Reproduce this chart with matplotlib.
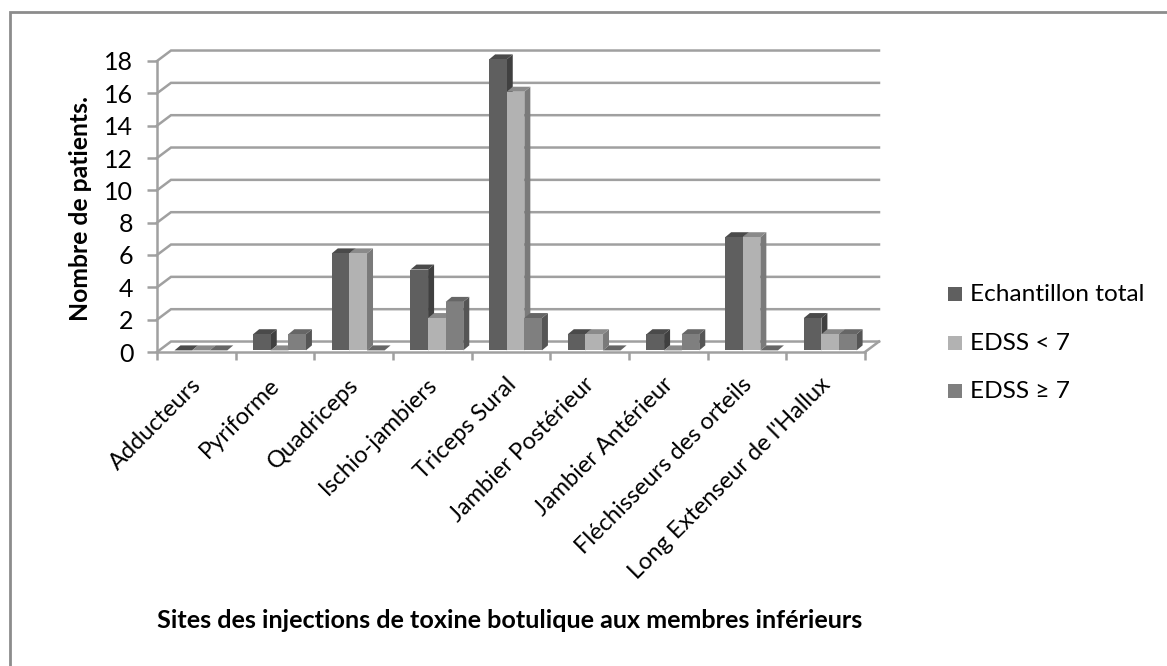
import matplotlib
matplotlib.use('Agg')
import matplotlib.pyplot as plt
from matplotlib.patches import Polygon, Rectangle

plt.rcParams['font.family'] = ['Lato', 'DejaVu Sans']

categories = ['Adducteurs', 'Pyriforme', 'Quadriceps', 'Ischio-jambiers', 'Triceps Sural',
              'Jambier Postérieur', 'Jambier Antérieur', 'Fléchisseurs des orteils',
              "Long Extenseur de l'Hallux"]
total = [0, 1, 6, 5, 18, 1, 1, 7, 2]
edss_low = [0, 0, 6, 2, 16, 1, 0, 7, 1]
edss_high = [0, 1, 0, 3, 2, 0, 1, 0, 1]
series_names = ['Echantillon total', 'EDSS < 7', 'EDSS ≥ 7']
yticks = list(range(0, 19, 2))

W, H = 1167, 666
fig = plt.figure(figsize=(W / 100, H / 100), dpi=100)
ax = fig.add_axes([157 / W, 1 - 352 / H, 708 / W, 291 / H])
ax.set_xlim(0, 9)
ax.set_ylim(0, 18)

GRID = '#a0a0a0'
# depth of the fake 3D box, in data units
dx_wall = 14 / 78.7
dy_wall = 10.5 / 16.2
dx_bar = 6 / 78.7
dy_bar = 5 / 16.2
lift = 0.1

# back wall lines and floor
for v in yticks:
    ax.plot([0, dx_wall, 9 + dx_wall], [v, v + dy_wall, v + dy_wall], color=GRID, lw=1.8,
            clip_on=False, zorder=1, solid_joinstyle='miter')
ax.plot([9, 9 + dx_wall], [0, dy_wall], color=GRID, lw=1.8, clip_on=False, zorder=1)

# bars, front face plus side and top
fronts = ['#5f5f5f', '#b2b2b2', '#7f7f7f']
sides = ['#404040', '#7a7a7a', '#555555']
tops = ['#4a4a4a', '#8a8a8a', '#666666']
bar_w = 17.6 / 78.7
start = 17.5 / 78.7
for s, vals in enumerate([total, edss_low, edss_high]):
    for i, v in enumerate(vals):
        x0 = i + start + s * bar_w
        x1 = x0 + bar_w
        top = v + lift
        ax.add_patch(Polygon([(x1, lift), (x1 + dx_bar, lift + dy_bar), (x1 + dx_bar, top + dy_bar), (x1, top)],
                             fc=sides[s], ec='none', clip_on=False, zorder=2 + s))
        ax.add_patch(Polygon([(x0, top), (x0 + dx_bar, top + dy_bar), (x1 + dx_bar, top + dy_bar), (x1, top)],
                             fc=tops[s], ec='none', clip_on=False, zorder=2 + s))
        ax.bar(x0, v, bottom=lift, width=bar_w, align='edge', color=fronts[s], zorder=2 + s, clip_on=False)

for name in ['top', 'right']:
    ax.spines[name].set_visible(False)
for name in ['left', 'bottom']:
    ax.spines[name].set_color(GRID)
    ax.spines[name].set_linewidth(1.8)
    ax.spines[name].set_zorder(6)

ax.set_yticks(yticks)
ax.tick_params(axis='y', length=7, width=1.8, color=GRID, labelsize=18, pad=10, labelcolor='black')
ax.set_xticks(range(10))
ax.set_xticklabels([''] * 10)
ax.tick_params(axis='x', length=5.5, width=1.8, color=GRID)
for i, c in enumerate(categories):
    ax.annotate(c, xy=(i + 0.5, 0), xytext=(-6, -22), textcoords='offset pixels', xycoords='data',
                rotation=45, rotation_mode='anchor', ha='right', va='top', fontsize=17)

fig.text(80 / W, 1 - 208 / H, 'Nombre de patients.', rotation=90, fontsize=17.8, fontweight='bold',
         ha='center', va='center')
fig.text(510 / W, 1 - 620 / H, 'Sites des injections de toxine botulique aux membres inférieurs',
         fontsize=18.1, fontweight='bold', ha='center', va='center')

# legend placed by hand to keep the spacing of the original
for y, name, col in zip([294.5, 343, 391], series_names, fronts):
    fig.patches.append(Rectangle((948 / W, 1 - (y + 7) / H), 14 / W, 14 / H, transform=fig.transFigure,
                                 fc=col, ec='none'))
    fig.text(970 / W, 1 - y / H, name, fontsize=17.6, ha='left', va='center')

# outer frame, only left and top show
fig.patches.append(Rectangle((10 / W, -20 / H), 1200 / W, (20 + 654) / H, transform=fig.transFigure,
                             fc='none', ec='#8c8c8c', lw=2))

fig.savefig('out.png', dpi=100)
